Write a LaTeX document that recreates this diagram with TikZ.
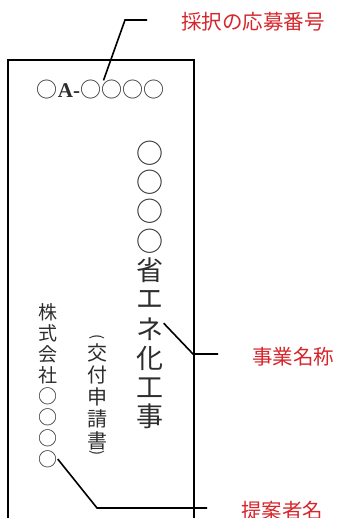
\documentclass[tikz,border=0pt]{standalone}
\usepackage{fontspec}
\setmainfont{Noto Sans CJK JP}
\newfontfamily\latinserif{Liberation Serif}
\definecolor{inkgray}{RGB}{45,45,45}
\definecolor{tagred}{RGB}{214,38,44}
\tikzset{
  glyph/.style={inner sep=0pt, text=inkgray},
  leader/.style={black, line width=1.6pt},
  tag/.style={inner sep=0pt, anchor=west, text=tagred, font=\fontsize{20.5}{20.5}\selectfont}
}

\begin{document}
\begin{tikzpicture}[x=1pt,y=-1pt]
  \useasboundingbox (0,0) rectangle (339,518);
  % Panel: runs off the bottom edge
  \draw[black, line width=1.4pt] (8,518) -- (8,60) -- (194,60) -- (194,518);
  % Top row: application number
  \node[glyph, font=\fontsize{21}{21}\selectfont] (number) at (100.5,90) {○{\latinserif\bfseries A-}○○○○};
  % Middle column: project title
  \foreach \c [count=\i] in {○,○,○,○,省,エ,ネ,化,工,事}
    \node[glyph, font=\fontsize{27}{27}\selectfont] (title\i) at (150,{153+29.3*(\i-1)}) {\c};
  % Second column: (交付申請書)
  \node[glyph, rotate=-90, font=\fontsize{15}{15}\selectfont] (open) at (97,337) {(};
  \foreach \c [count=\i] in {交,付,申,請,書}
    \node[glyph, font=\fontsize{20}{20}\selectfont] (app\i) at (97,{353+22*(\i-1)}) {\c};
  \node[glyph, rotate=-90, font=\fontsize{15}{15}\selectfont] (close) at (97,453) {)};
  % Left column: applicant
  \foreach \c [count=\i] in {株,式,会,社,○,○,○,○}
    \node[glyph, font=\fontsize{19}{19}\selectfont] (firm\i) at (48,{312+21*(\i-1)}) {\c};
  % Leaders and tags
  \coordinate (bendA) at (125,20);
  \coordinate (endA) at (147,20);
  \draw[leader] ([xshift=3pt]number.north) -- (bendA) -- (endA);
  \node[tag] (tagA) at (181,22) {採択の応募番号};
  \coordinate (bendB) at (193,354);
  \coordinate (endB) at (218,354);
  \draw[leader] ([yshift=-6pt]title7.north east) -- (bendB) -- (endB);
  \node[tag] (tagB) at (252,357) {事業名称};
  \coordinate (bendC) at (97,508);
  \coordinate (endC) at (207,508);
  \draw[leader] (firm8.east) -- (bendC) -- (endC);
  \node[tag] (tagC) at (241,511) {提案者名};
\end{tikzpicture}
\end{document}
